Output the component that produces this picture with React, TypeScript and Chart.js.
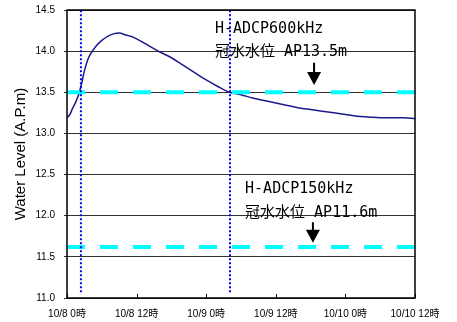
import React, { useEffect, useRef } from "react";
import { Chart, registerables } from "chart.js";

Chart.register(...registerables);

// Elapsed hours from 10/8 0時
const hours = [0, 0.5, 1, 1.5, 2, 2.5, 3, 3.5, 4, 5, 6, 7, 8, 9, 10, 11, 12, 14, 16, 18, 20, 22, 24, 26, 28, 30, 32, 34, 36, 38, 40, 42, 44, 46, 48, 50, 52, 54, 56, 58, 60];
const waterLevel = [13.19, 13.23, 13.31, 13.38, 13.47, 13.6, 13.76, 13.88, 13.96, 14.06, 14.13, 14.18, 14.21, 14.22, 14.2, 14.18, 14.15, 14.07, 13.99, 13.92, 13.83, 13.74, 13.65, 13.57, 13.5, 13.47, 13.43, 13.4, 13.37, 13.34, 13.31, 13.29, 13.27, 13.25, 13.23, 13.21, 13.2, 13.19, 13.19, 13.19, 13.18];

const xTickHours = [0, 12, 24, 36, 48, 60];
const xTickLabels = ["10/8 0時", "10/8 12時", "10/9 0時", "10/9 12時", "10/10 0時", "10/10 12時"];

const floodLevels = [13.5, 11.62];
const markerHours = [2.4, 28.1];
const markerRange = [11.07, 14.5];

const annText1 = ["H-ADCP600kHz", "冠水水位 AP13.5m"];
const annText2 = ["H-ADCP150kHz", "冠水水位 AP11.6m"];
// annotation anchors in data units: [hour, line1 level, line2 level, arrow hour, arrow top, arrow bottom]
const ann1 = [25.5, 14.27, 13.99, 42.6, 13.86, 13.59];
const ann2 = [30.7, 12.32, 12.03, 42.4, 11.92, 11.67];

const annPlugin = {
  id: "annPlugin",
  afterDatasetsDraw(chart: any) {
    const { ctx, chartArea, scales } = chart;
    const xs = scales.x;
    const ys = scales.y;
    ctx.save();
    ctx.strokeStyle = "#000";
    ctx.lineWidth = 1.5;
    ctx.strokeRect(chartArea.left, chartArea.top, chartArea.right - chartArea.left, chartArea.bottom - chartArea.top);
    ctx.lineWidth = 1;
    xTickHours.forEach((h) => {
      const px = Math.round(xs.getPixelForValue(h)) + 0.5;
      ctx.beginPath();
      ctx.moveTo(px, chartArea.bottom);
      ctx.lineTo(px, chartArea.bottom - 4);
      ctx.stroke();
    });
    const drawAnn = (texts: string[], a: number[]) => {
      ctx.fillStyle = "#000";
      ctx.font = "15px 'DejaVu Sans Mono', 'Noto Sans CJK JP', monospace";
      ctx.textAlign = "left";
      ctx.textBaseline = "middle";
      const x = xs.getPixelForValue(a[0]);
      ctx.fillText(texts[0], x, ys.getPixelForValue(a[1]));
      ctx.fillText(texts[1], x, ys.getPixelForValue(a[2]));
      const ax = xs.getPixelForValue(a[3]);
      const ay1 = ys.getPixelForValue(a[4]);
      const ay2 = ys.getPixelForValue(a[5]);
      ctx.strokeStyle = "#000";
      ctx.lineWidth = 2;
      ctx.beginPath();
      ctx.moveTo(ax, ay1);
      ctx.lineTo(ax, ay2 - 10);
      ctx.stroke();
      ctx.beginPath();
      ctx.moveTo(ax - 7, ay2 - 13);
      ctx.lineTo(ax + 7, ay2 - 13);
      ctx.lineTo(ax, ay2);
      ctx.closePath();
      ctx.fill();
    };
    drawAnn(annText1, ann1);
    drawAnn(annText2, ann2);
    ctx.restore();
  },
};

export default function App() {
  const ref = useRef<HTMLCanvasElement | null>(null);
  useEffect(() => {
    if (!ref.current) return;
    const curve = hours.map((h, i) => ({ x: h, y: waterLevel[i] }));
    const datasets: any[] = [];
    markerHours.forEach((h) => {
      datasets.push({
        data: [
          { x: h, y: markerRange[0] },
          { x: h, y: markerRange[1] },
        ],
        borderColor: "#0000ff",
        borderWidth: 2,
        borderDash: [2, 2],
        pointRadius: 0,
        tension: 0,
      });
    });
    floodLevels.forEach((lv) => {
      datasets.push({
        data: [
          { x: 0, y: lv },
          { x: 60, y: lv },
        ],
        borderColor: "#00ffff",
        borderWidth: 4,
        borderDash: [18, 15],
        pointRadius: 0,
        tension: 0,
      });
    });
    datasets.push({
      data: curve,
      borderColor: "#1a1a8a",
      borderWidth: 1.5,
      pointRadius: 0,
      cubicInterpolationMode: "monotone",
    });
    const chart = new Chart(ref.current, {
      type: "line",
      data: { datasets },
      options: {
        animation: false,
        responsive: false,
        layout: { padding: { left: 0, right: 42, top: 10, bottom: 0 } },
        plugins: { legend: { display: false }, tooltip: { enabled: false } },
        scales: {
          x: {
            type: "linear",
            min: 0,
            max: 60,
            afterFit: (s: any) => {
              s.height = 24;
              s.paddingLeft = 0;
              s.paddingRight = 0;
            },
            afterBuildTicks: (s: any) => {
              s.ticks = xTickHours.map((v) => ({ value: v }));
            },
            grid: { display: false },
            border: { display: false },
            ticks: {
              autoSkip: false,
              maxRotation: 0,
              padding: 2,
              color: "#000",
              font: { family: "'Liberation Sans', Arial, 'Noto Sans CJK JP', sans-serif", size: 10 },
              callback: (v: any) => {
                const i = xTickHours.indexOf(Number(v));
                return i >= 0 ? xTickLabels[i] : "";
              },
            },
          },
          y: {
            min: 11.0,
            max: 14.5,
            afterFit: (s: any) => {
              s.width = 67;
              s.paddingTop = 0;
              s.paddingBottom = 0;
            },
            grid: { color: "#333", lineWidth: 1, tickLength: 3 },
            border: { display: false },
            ticks: {
              stepSize: 0.5,
              padding: 9,
              color: "#000",
              font: { family: "'Liberation Sans', Arial, sans-serif", size: 10 },
              callback: (v: any) => Number(v).toFixed(1),
            },
            title: {
              display: true,
              text: "Water Level (A.P.m)",
              color: "#000",
              padding: { top: 12, bottom: 0 },
              font: { family: "'Liberation Sans', Arial, sans-serif", size: 15, weight: "normal" },
            },
          },
        },
      },
      plugins: [annPlugin],
    } as any);
    return () => chart.destroy();
  }, []);
  return (
    <div style={{ position: "absolute", left: 0, top: 0, width: 457, height: 322, background: "#fff" }}>
      <canvas ref={ref} width={457} height={322} style={{ display: "block" }} />
    </div>
  );
}
